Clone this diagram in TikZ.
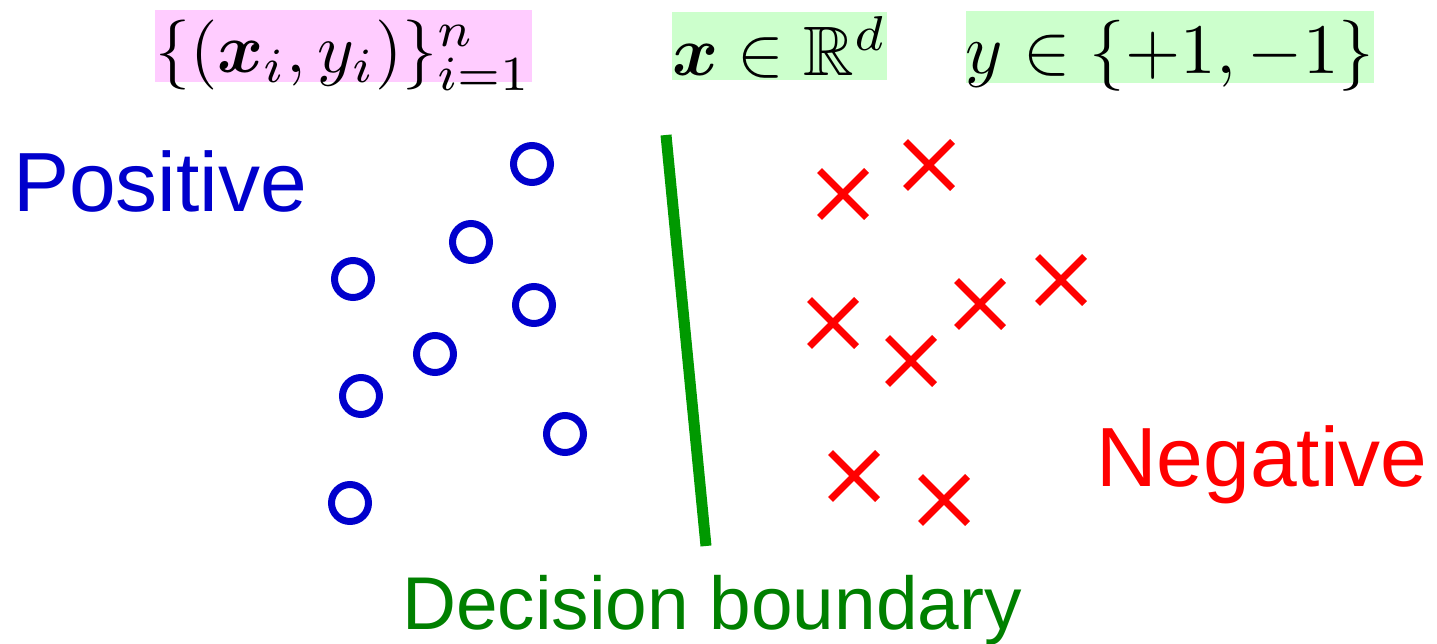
\documentclass[tikz,border=0pt]{standalone}
\usepackage{fontspec}
\newfontfamily\arial{Liberation Sans}
\usepackage{amsmath,amssymb}
\usepackage{graphicx}
\usetikzlibrary{shapes.misc}
\definecolor{posblue}{RGB}{0,0,204}
\definecolor{negred}{RGB}{255,0,0}
\definecolor{linegreen}{RGB}{0,153,0}
\definecolor{textgreen}{RGB}{0,128,0}
\definecolor{boxpink}{RGB}{255,204,255}
\definecolor{boxgreen}{RGB}{204,255,204}
\tikzset{
  possample/.style={circle, draw=posblue, line width=7pt, minimum size=37pt, inner sep=0pt},
  negsample/.style={cross out, draw=negred, line width=7pt, minimum size=40pt, inner sep=0pt},
  formula/.style={inner sep=0pt, outer sep=0pt, text depth=0pt},
  bigtext/.style={inner sep=0pt, anchor=base west},
}
\begin{document}
\begin{tikzpicture}[x=1pt, y=-1pt]
\useasboundingbox (0,0) rectangle (1437,644);
% formula boxes
\node[formula, fill=boxpink, minimum width=377pt, minimum height=72pt] (f1) at (343.5,46)
  {\scalebox{7}{$\{(\boldsymbol{x}_i, y_i)\}_{i=1}^{n}$}};
\node[formula, fill=boxgreen, minimum width=215pt, minimum height=68pt] (f2) at (779.5,46)
  {\scalebox{7}{$\boldsymbol{x}\in\mathbb{R}^d$}};
\node[formula, fill=boxgreen, minimum width=408pt, minimum height=72pt] (f3) at (1170,47)
  {\scalebox{7.1}{$y\in\{+1,-1\}$}};
% labels
\node[bigtext, text=posblue] (lpos) at (13,212) {\arial\fontsize{84}{90}\selectfont Positive};
\node[bigtext, text=negred] (lneg) at (1096,486) {\arial\fontsize{84}{90}\selectfont Negative};
\node[bigtext, text=textgreen] (lbnd) at (402,629) {\arial\fontsize{74.8}{80}\selectfont Decision boundary};
% decision boundary
\coordinate (b1) at (666,135);
\coordinate (b2) at (706,546);
\draw[linegreen, line width=11pt] (b1) -- (b2);
% positive samples
\node[possample] (p1) at (532,164) {};
\node[possample] (p2) at (471,242) {};
\node[possample] (p3) at (353,279) {};
\node[possample] (p4) at (534,305) {};
\node[possample] (p5) at (435,354) {};
\node[possample] (p6) at (361,396) {};
\node[possample] (p7) at (565,434) {};
\node[possample] (p8) at (350,503) {};
% negative samples
\node[negsample] (n1) at (843,194) {};
\node[negsample] (n2) at (929,165) {};
\node[negsample] (n3) at (833,323) {};
\node[negsample] (n4) at (980,304) {};
\node[negsample] (n5) at (1061,280) {};
\node[negsample] (n6) at (911,361) {};
\node[negsample] (n7) at (854,476) {};
\node[negsample] (n8) at (944,500) {};
\end{tikzpicture}
\end{document}
